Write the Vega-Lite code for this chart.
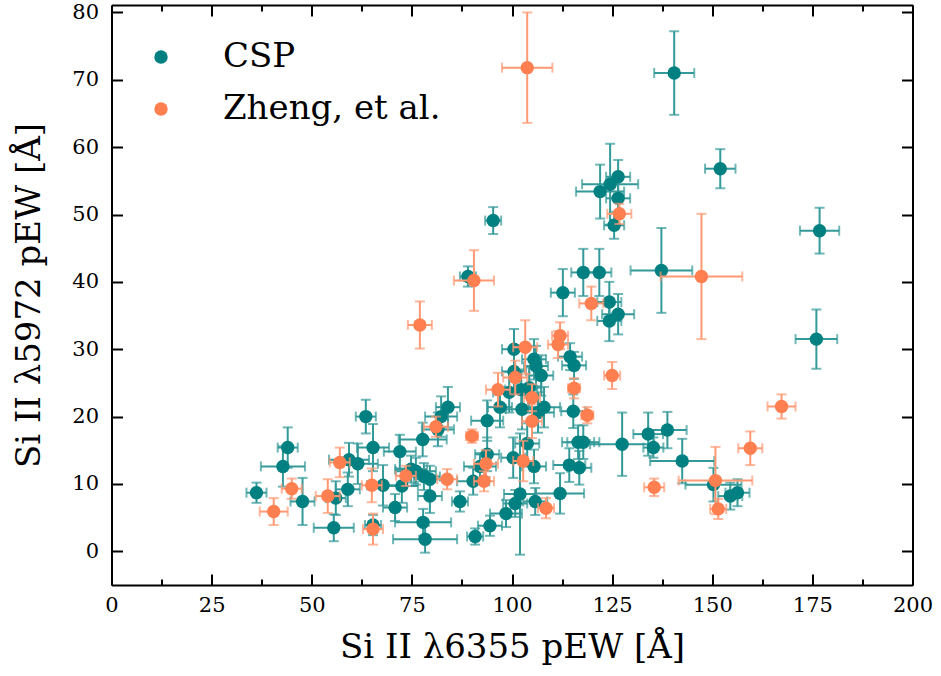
{
  "$schema": "https://vega.github.io/schema/vega-lite/v6.json",
  "width": 801,
  "height": 580,
  "autosize": {"type": "none"},
  "padding": {"left": 111.5, "top": 5, "right": 28, "bottom": 91},
  "background": "white",
  "config": {"font": "DejaVu Serif", "view": {"stroke": null}},
  "data": {"values": [
    {"s":"CSP","x":36.2,"y":8.7,"ex":2.5,"ey":1.5},
    {"s":"CSP","x":42.8,"y":12.6,"ex":5.5,"ey":3},
    {"s":"CSP","x":44.0,"y":15.4,"ex":2.5,"ey":3},
    {"s":"CSP","x":47.7,"y":7.4,"ex":3,"ey":3.5},
    {"s":"CSP","x":55.5,"y":3.5,"ex":5,"ey":2},
    {"s":"CSP","x":56.0,"y":7.9,"ex":2.5,"ey":2.5},
    {"s":"CSP","x":59.0,"y":9.2,"ex":3,"ey":2.5},
    {"s":"CSP","x":59.3,"y":13.6,"ex":5,"ey":2.5},
    {"s":"CSP","x":61.5,"y":13.0,"ex":5,"ey":3},
    {"s":"CSP","x":63.5,"y":20.0,"ex":2.5,"ey":2.5},
    {"s":"CSP","x":65.3,"y":15.4,"ex":4,"ey":3.5},
    {"s":"CSP","x":65.3,"y":3.9,"ex":2,"ey":1.5},
    {"s":"CSP","x":67.8,"y":9.8,"ex":4,"ey":3},
    {"s":"CSP","x":70.8,"y":6.5,"ex":3,"ey":2},
    {"s":"CSP","x":72.0,"y":14.8,"ex":4,"ey":2.5},
    {"s":"CSP","x":72.5,"y":9.7,"ex":4,"ey":2.5},
    {"s":"CSP","x":74.8,"y":12.2,"ex":4,"ey":2},
    {"s":"CSP","x":76.0,"y":11.9,"ex":5,"ey":2},
    {"s":"CSP","x":77.7,"y":16.6,"ex":6,"ey":2.5},
    {"s":"CSP","x":77.8,"y":4.3,"ex":7,"ey":2},
    {"s":"CSP","x":78.3,"y":1.8,"ex":8,"ey":2},
    {"s":"CSP","x":78.0,"y":11.1,"ex":4,"ey":2},
    {"s":"CSP","x":79.5,"y":10.7,"ex":4,"ey":2},
    {"s":"CSP","x":79.5,"y":8.2,"ex":3,"ey":2.5},
    {"s":"CSP","x":81.5,"y":18.1,"ex":4,"ey":2.5},
    {"s":"CSP","x":82.3,"y":20.0,"ex":4,"ey":3},
    {"s":"CSP","x":84.0,"y":21.4,"ex":3,"ey":3},
    {"s":"CSP","x":87.0,"y":7.4,"ex":2,"ey":1.5},
    {"s":"CSP","x":89.0,"y":40.8,"ex":2,"ey":1.5},
    {"s":"CSP","x":90.3,"y":10.4,"ex":4,"ey":2},
    {"s":"CSP","x":90.8,"y":2.2,"ex":2,"ey":1.2},
    {"s":"CSP","x":92.0,"y":12.6,"ex":4,"ey":2},
    {"s":"CSP","x":93.8,"y":14.4,"ex":3,"ey":2.5},
    {"s":"CSP","x":93.8,"y":19.4,"ex":4,"ey":3},
    {"s":"CSP","x":94.5,"y":3.8,"ex":3,"ey":1.5},
    {"s":"CSP","x":95.3,"y":49.1,"ex":2,"ey":2},
    {"s":"CSP","x":97.0,"y":21.4,"ex":3,"ey":3},
    {"s":"CSP","x":98.5,"y":5.6,"ex":4,"ey":2},
    {"s":"CSP","x":99.3,"y":23.6,"ex":4,"ey":3},
    {"s":"CSP","x":100.3,"y":13.9,"ex":3,"ey":3},
    {"s":"CSP","x":100.5,"y":26.7,"ex":3,"ey":3},
    {"s":"CSP","x":100.5,"y":30.0,"ex":3,"ey":3},
    {"s":"CSP","x":100.8,"y":7.1,"ex":3,"ey":2},
    {"s":"CSP","x":102.0,"y":8.5,"ex":4,"ey":9},
    {"s":"CSP","x":102.3,"y":24.0,"ex":4,"ey":3},
    {"s":"CSP","x":102.5,"y":21.1,"ex":4,"ey":3},
    {"s":"CSP","x":103.8,"y":16.0,"ex":3,"ey":3},
    {"s":"CSP","x":104.3,"y":24.3,"ex":3,"ey":3},
    {"s":"CSP","x":105.5,"y":12.6,"ex":3,"ey":2.5},
    {"s":"CSP","x":105.5,"y":28.5,"ex":3,"ey":3},
    {"s":"CSP","x":105.8,"y":7.4,"ex":3,"ey":2},
    {"s":"CSP","x":106.0,"y":27.5,"ex":3,"ey":3},
    {"s":"CSP","x":106.5,"y":20.6,"ex":4,"ey":3},
    {"s":"CSP","x":107.3,"y":26.1,"ex":3,"ey":3},
    {"s":"CSP","x":108.0,"y":21.4,"ex":4,"ey":3},
    {"s":"CSP","x":112.0,"y":8.6,"ex":6,"ey":3},
    {"s":"CSP","x":112.7,"y":38.4,"ex":3,"ey":3.5},
    {"s":"CSP","x":114.3,"y":12.8,"ex":4,"ey":2.5},
    {"s":"CSP","x":114.5,"y":28.9,"ex":3,"ey":2},
    {"s":"CSP","x":115.3,"y":20.8,"ex":3,"ey":2.5},
    {"s":"CSP","x":115.5,"y":27.6,"ex":3,"ey":2},
    {"s":"CSP","x":116.5,"y":16.2,"ex":4,"ey":2.5},
    {"s":"CSP","x":116.8,"y":12.4,"ex":3,"ey":2.5},
    {"s":"CSP","x":117.8,"y":16.2,"ex":4,"ey":2.5},
    {"s":"CSP","x":117.8,"y":41.4,"ex":3,"ey":3.5},
    {"s":"CSP","x":121.8,"y":41.4,"ex":3,"ey":3.5},
    {"s":"CSP","x":122.0,"y":53.4,"ex":6,"ey":4},
    {"s":"CSP","x":124.3,"y":37.0,"ex":3,"ey":3},
    {"s":"CSP","x":124.3,"y":34.2,"ex":3,"ey":3},
    {"s":"CSP","x":124.5,"y":54.5,"ex":7,"ey":6},
    {"s":"CSP","x":125.5,"y":48.4,"ex":2.5,"ey":2},
    {"s":"CSP","x":126.5,"y":55.6,"ex":3,"ey":2.5},
    {"s":"CSP","x":126.5,"y":52.4,"ex":3,"ey":3},
    {"s":"CSP","x":126.5,"y":35.2,"ex":4,"ey":3},
    {"s":"CSP","x":127.5,"y":15.9,"ex":8,"ey":4.7},
    {"s":"CSP","x":134.0,"y":17.4,"ex":3.7,"ey":3.2},
    {"s":"CSP","x":135.3,"y":15.4,"ex":2.5,"ey":1.5},
    {"s":"CSP","x":137.3,"y":41.7,"ex":7.7,"ey":6.3},
    {"s":"CSP","x":138.8,"y":18.0,"ex":4.8,"ey":2.7},
    {"s":"CSP","x":140.5,"y":71.0,"ex":5,"ey":6.2},
    {"s":"CSP","x":142.5,"y":13.4,"ex":8,"ey":3.3},
    {"s":"CSP","x":150.3,"y":9.9,"ex":7,"ey":2.5},
    {"s":"CSP","x":152.0,"y":56.8,"ex":3.8,"ey":2.9},
    {"s":"CSP","x":154.5,"y":8.2,"ex":3,"ey":2},
    {"s":"CSP","x":156.3,"y":8.7,"ex":3,"ey":2},
    {"s":"CSP","x":176.8,"y":47.6,"ex":4.9,"ey":3.4},
    {"s":"CSP","x":176.0,"y":31.5,"ex":5.2,"ey":4.4},
    {"s":"Zheng, et al.","x":40.5,"y":5.9,"ex":3.5,"ey":2},
    {"s":"Zheng, et al.","x":45.0,"y":9.3,"ex":2.5,"ey":1.5},
    {"s":"Zheng, et al.","x":54.0,"y":8.2,"ex":3,"ey":2.5},
    {"s":"Zheng, et al.","x":57.0,"y":13.2,"ex":2.5,"ey":2.2},
    {"s":"Zheng, et al.","x":65.0,"y":9.8,"ex":2.5,"ey":2.5},
    {"s":"Zheng, et al.","x":65.3,"y":3.3,"ex":2.5,"ey":2.3},
    {"s":"Zheng, et al.","x":73.5,"y":11.2,"ex":2.5,"ey":1.5},
    {"s":"Zheng, et al.","x":77.0,"y":33.6,"ex":3,"ey":3.5},
    {"s":"Zheng, et al.","x":81.0,"y":18.5,"ex":3,"ey":1.5},
    {"s":"Zheng, et al.","x":83.8,"y":10.7,"ex":2.5,"ey":1.5},
    {"s":"Zheng, et al.","x":90.0,"y":17.1,"ex":1.5,"ey":1},
    {"s":"Zheng, et al.","x":90.5,"y":40.2,"ex":5,"ey":4.5},
    {"s":"Zheng, et al.","x":93.0,"y":10.4,"ex":2.5,"ey":1.5},
    {"s":"Zheng, et al.","x":93.5,"y":13.0,"ex":3,"ey":2},
    {"s":"Zheng, et al.","x":96.5,"y":24.0,"ex":3,"ey":2.5},
    {"s":"Zheng, et al.","x":100.8,"y":25.8,"ex":3,"ey":2.5},
    {"s":"Zheng, et al.","x":102.8,"y":13.4,"ex":2.5,"ey":3},
    {"s":"Zheng, et al.","x":103.3,"y":30.3,"ex":3,"ey":4},
    {"s":"Zheng, et al.","x":103.8,"y":71.8,"ex":6.3,"ey":8.2},
    {"s":"Zheng, et al.","x":105.0,"y":22.8,"ex":2,"ey":2},
    {"s":"Zheng, et al.","x":105.0,"y":19.3,"ex":2.5,"ey":2.5},
    {"s":"Zheng, et al.","x":108.5,"y":6.4,"ex":2,"ey":1.5},
    {"s":"Zheng, et al.","x":111.5,"y":30.7,"ex":2.5,"ey":2},
    {"s":"Zheng, et al.","x":112.0,"y":32.0,"ex":2,"ey":2},
    {"s":"Zheng, et al.","x":115.5,"y":24.2,"ex":1.5,"ey":1.5},
    {"s":"Zheng, et al.","x":118.8,"y":20.2,"ex":1.5,"ey":1.2},
    {"s":"Zheng, et al.","x":119.8,"y":36.8,"ex":3,"ey":2.5},
    {"s":"Zheng, et al.","x":125.0,"y":26.1,"ex":2,"ey":2},
    {"s":"Zheng, et al.","x":126.8,"y":50.1,"ex":3,"ey":1.5},
    {"s":"Zheng, et al.","x":135.5,"y":9.5,"ex":2.5,"ey":1.3},
    {"s":"Zheng, et al.","x":147.3,"y":40.8,"ex":10.2,"ey":9.3},
    {"s":"Zheng, et al.","x":150.8,"y":10.5,"ex":9.2,"ey":5},
    {"s":"Zheng, et al.","x":151.5,"y":6.3,"ex":2,"ey":1.5},
    {"s":"Zheng, et al.","x":159.5,"y":15.3,"ex":3,"ey":2.5},
    {"s":"Zheng, et al.","x":167.3,"y":21.5,"ex":3.5,"ey":1.8}
  ]},
  "layer": [
    {
      "transform": [{"filter": "datum.s === 'CSP'"}],
      "mark": {"type": "errorbar", "ticks": true, "color": "#339999", "thickness": 2, "size": 10},
      "encoding": {
        "x": {"field": "x", "type": "quantitative", "scale": {"domain": [0, 200], "nice": false, "zero": false},
          "axis": {"orient": "bottom", "values": [0,25,50,75,100,125,150,175,200], "tickSize": -11, "tickWidth": 2, "tickColor": "black",
            "domainWidth": 2, "domainColor": "black", "labelFontSize": 21, "labelColor": "black", "labelPadding": 20,
            "labelFlush": false, "labelOverlap": false, "grid": false,
            "title": "Si II λ6355 pEW [Å]", "titleFontSize": 34, "titleFontWeight": "normal", "titleColor": "black", "titlePadding": 15}},
        "xError": {"field": "ex"},
        "y": {"field": "y", "type": "quantitative", "scale": {"domain": [-5, 81.1], "nice": false, "zero": false}, "axis": null}
      }
    },
    {
      "transform": [{"filter": "datum.s === 'CSP'"}],
      "mark": {"type": "errorbar", "ticks": true, "color": "#339999", "thickness": 2, "size": 10},
      "encoding": {
        "y": {"field": "y", "type": "quantitative", "scale": {"domain": [-5, 81.1], "nice": false, "zero": false},
          "axis": {"orient": "left", "values": [0,10,20,30,40,50,60,70,80], "tickSize": -11, "tickWidth": 2, "tickColor": "black",
            "domainWidth": 2, "domainColor": "black", "labelFontSize": 21, "labelColor": "black", "labelPadding": 24,
            "labelFlush": false, "labelOverlap": false, "grid": false,
            "title": "Si II λ5972 pEW [Å]", "titleFontSize": 34, "titleFontWeight": "normal", "titleColor": "black", "titlePadding": 25}},
        "yError": {"field": "ey"},
        "x": {"field": "x", "type": "quantitative", "scale": {"domain": [0, 200], "nice": false, "zero": false},
          "axis": {"orient": "top", "values": [0,25,50,75,100,125,150,175,200], "tickSize": -11, "tickWidth": 2, "tickColor": "black",
            "domainWidth": 2, "domainColor": "black", "labels": false, "grid": false, "title": null}}
      }
    },
    {
      "transform": [{"filter": "datum.s === 'CSP'"}],
      "mark": {"type": "circle", "size": 180, "opacity": 1},
      "encoding": {
        "x": {"field": "x", "type": "quantitative", "scale": {"domain": [0, 200], "nice": false, "zero": false},
          "axis": {"orient": "bottom", "values": [12.5,37.5,62.5,87.5,112.5,137.5,162.5,187.5], "tickSize": -6, "tickWidth": 2, "tickColor": "black",
            "domain": false, "labels": false, "grid": false, "title": null}},
        "y": {"field": "y", "type": "quantitative", "scale": {"domain": [-5, 81.1], "nice": false, "zero": false},
          "axis": {"orient": "right", "values": [0,10,20,30,40,50,60,70,80], "tickSize": -11, "tickWidth": 2, "tickColor": "black",
            "domainWidth": 2, "domainColor": "black", "labels": false, "grid": false, "title": null}},
        "color": {"field": "s", "type": "nominal", "scale": {"domain": ["CSP", "Zheng, et al."], "range": ["#008080", "#FF7F50"]},
          "legend": {"title": null, "orient": "none", "legendX": 32.5, "legendY": 35, "symbolType": "circle", "symbolSize": 180,
            "symbolOpacity": 1, "labelFontSize": 34, "labelColor": "black", "labelOffset": 45, "labelLimit": 0, "rowPadding": 18, "padding": 0}}
      }
    },
    {
      "transform": [{"filter": "datum.s === 'Zheng, et al.'"}],
      "mark": {"type": "errorbar", "ticks": true, "color": "#FF9973", "thickness": 2, "size": 10},
      "encoding": {
        "x": {"field": "x", "type": "quantitative", "scale": {"domain": [0, 200], "nice": false, "zero": false},
          "axis": {"orient": "top", "values": [12.5,37.5,62.5,87.5,112.5,137.5,162.5,187.5], "tickSize": -6, "tickWidth": 2, "tickColor": "black",
            "domain": false, "labels": false, "grid": false, "title": null}},
        "xError": {"field": "ex"},
        "y": {"field": "y", "type": "quantitative", "scale": {"domain": [-5, 81.1], "nice": false, "zero": false}, "axis": null}
      }
    },
    {
      "transform": [{"filter": "datum.s === 'Zheng, et al.'"}],
      "mark": {"type": "errorbar", "ticks": true, "color": "#FF9973", "thickness": 2, "size": 10},
      "encoding": {
        "y": {"field": "y", "type": "quantitative", "scale": {"domain": [-5, 81.1], "nice": false, "zero": false}, "axis": null},
        "yError": {"field": "ey"},
        "x": {"field": "x", "type": "quantitative", "scale": {"domain": [0, 200], "nice": false, "zero": false}, "axis": null}
      }
    },
    {
      "transform": [{"filter": "datum.s === 'Zheng, et al.'"}],
      "mark": {"type": "circle", "size": 180, "opacity": 1},
      "encoding": {
        "x": {"field": "x", "type": "quantitative", "scale": {"domain": [0, 200], "nice": false, "zero": false}, "axis": null},
        "y": {"field": "y", "type": "quantitative", "scale": {"domain": [-5, 81.1], "nice": false, "zero": false}, "axis": null},
        "color": {"field": "s", "type": "nominal", "scale": {"domain": ["CSP", "Zheng, et al."], "range": ["#008080", "#FF7F50"]}, "legend": null}
      }
    }
  ],
  "resolve": {"axis": {"x": "independent", "y": "independent"}}
}
